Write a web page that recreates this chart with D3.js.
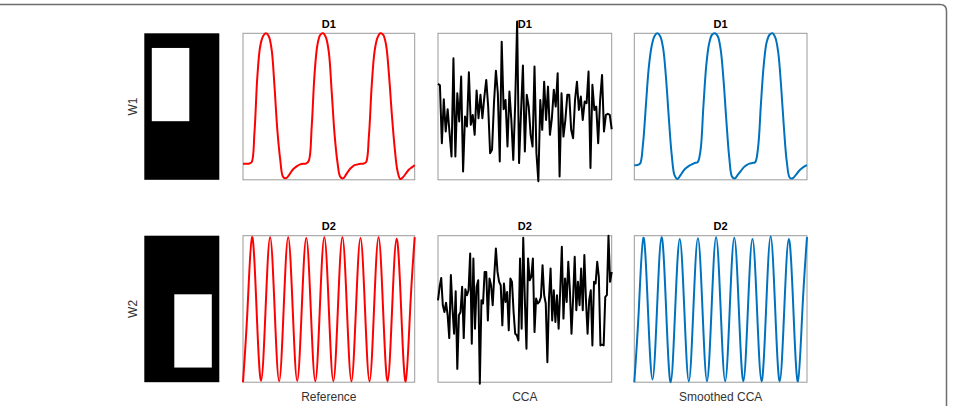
<!DOCTYPE html>
<html>
<head>
<meta charset="utf-8">
<script src="https://cdn.jsdelivr.net/npm/d3@7"></script>
<style>
  body { margin: 0; background: #fff; }
  text { font-family: "Liberation Sans", Arial, sans-serif; }
</style>
</head>
<body>
<script>

// --- data ---
var rowLabels = ["W1", "W2"];
var rowTitles = ["D1", "D2"];
var colLabels = ["Reference", "CCA", "Smoothed CCA"];

// white window inside the black map: [x0, x1, y0, y1] as fraction of the map
var maskW1 = [0.1, 0.6, 0.1, 0.6];
var maskW2 = [0.4, 0.9, 0.4, 0.9];

var refD1 = [0.11, 0.11, 0.11, 0.12, 0.32, 0.70, 0.91, 0.98, 1.00, 0.98,
             0.89, 0.64, 0.34, 0.14, 0.02, 0.01, 0.03, 0.06, 0.08, 0.095,
             0.105, 0.11, 0.11, 0.13, 0.36, 0.72, 0.92, 0.99, 1.00, 0.97,
             0.87, 0.60, 0.31, 0.12, 0.02, 0.01, 0.035, 0.065, 0.085, 0.10,
             0.105, 0.11, 0.11, 0.12, 0.30, 0.65, 0.88, 0.97, 1.00, 0.99,
             0.92, 0.72, 0.45, 0.22, 0.06, 0.005, 0.02, 0.045, 0.07, 0.085, 0.10];

var smoothD1 = [0.10, 0.10, 0.11, 0.24, 0.50, 0.76, 0.91, 0.98, 1.00, 0.98,
                0.90, 0.70, 0.42, 0.17, 0.03, 0.005, 0.03, 0.06, 0.08, 0.095,
                0.105, 0.115, 0.12, 0.20, 0.50, 0.78, 0.93, 0.99, 1.00, 0.98,
                0.89, 0.68, 0.40, 0.15, 0.02, 0.01, 0.035, 0.06, 0.085, 0.10,
                0.11, 0.115, 0.12, 0.22, 0.52, 0.79, 0.94, 0.99, 1.00, 0.97,
                0.87, 0.64, 0.35, 0.12, 0.015, 0.01, 0.03, 0.055, 0.075, 0.09, 0.10];

var ccaD1 = [0.655, 0.645, 0.25, 0.55, 0.33, 0.482, 0.318, 0.159, 0.83, 0.159,
             0.591, 0.398, 0.705, 0.057, 0.432, 0.364, 0.734, 0.375, 0.443, 0.307,
             0.609, 0.42, 0.58, 0.42, 0.564, 0.682, 0.5, 0.182, 0.205, 0.523,
             0.745, 0.591, 0.125, 0.943, 0.482, 0.545, 0.227, 0.602, 0.409, 0.136,
             0.523, 1.08, 0.114, 0.455, 0.78, 0.193, 0.58, 0.5, 0.307, 0.227,
             0.773, 0.182, -0.01, 0.545, 0.341, 0.67, 0.409, 0.636, 0.307, 0.42,
             0.614, 0.5, 0.727, 0.023, 0.591, 0.295, 0.409, 0.58, 0.58, 0.341,
             0.284, 0.545, 0.67, 0.477, 0.568, 0.409, 0.534, 0.523, 0.739, 0.08,
             0.648, 0.477, 0.5, 0.25, 0.545, 0.716, 0.33, 0.443, 0.45, 0.443, 0.345];

var refD2 = [0, 0.5, 0.99, 0.5, 0.01, 0.5, 0.99, 0.5, 0.007, 0.5,
             0.99, 0.5, 0.01, 0.5, 0.985, 0.5, 0.007, 0.5, 0.99, 0.5,
             0.007, 0.5, 0.99, 0.5, 0.007, 0.5, 0.985, 0.5, 0.007, 0.5,
             0.99, 0.5, 0.007, 0.5, 0.98, 0.5, 0.007, 0.5, 0.99];

var smoothD2 = [0, 0.5, 0.986, 0.5, 0.018, 0.5, 0.99, 0.5, 0, 0.5,
                0.977, 0.5, 0.007, 0.5, 0.982, 0.5, 0.007, 0.5, 0.99, 0.5,
                0.007, 0.5, 0.986, 0.5, 0.007, 0.5, 0.977, 0.5, 0.007, 0.5,
                0.995, 0.5, 0.007, 0.5, 0.977, 0.5, 0.007, 0.5, 0.99];

var ccaD2 = [0.559, 0.651, 0.712, 0.525, 0.479, 0.543, 0.457, 0.301, 0.731, 0.502,
             0.331, 0.621, 0.091, 0.457, 0.479, 0.651, 0.301, 0.635, 0.594, 0.628,
             0.879, 0.263, 0.845, 0.365, 0.651, 0.696, -0.01, 0.559, 0.537, 0.753,
             0.753, 0.422, 0.708, 0.662, 0.525, 0.731, 0.913, 0.753, 0.685, 0.662,
             0.388, 0.674, 0.548, 0.616, 0.354, 0.708, 0.685, 0.479, 0.331, 0.32,
             0.285, 0.845, 0.365, 0.986, 0.559, 0.228, 0.845, 0.696, 0.719, 0.845,
             0.342, 0.571, 0.537, 0.548, 0.582, 0.799, 0.594, 0.537, 0.137, 0.571,
             0.776, 0.422, 0.628, 0.411, 0.594, 0.365, 0.628, 0.925, 0.434, 0.708,
             0.548, 0.822, 0.628, 0.331, 0.571, 0.856, 0.491, 0.685, 0.525, 0.776,
             0.491, 0.868, 0.559, 0.331, 0.559, 0.628, 0.251, 0.685, 0.674, 0.822,
             0.719, 0.251, 0.256, 0.251, 0.582, 0.594, 1.0, 0.685, 0.753];

// --- layout ---
var W = 954, H = 406;
var rowTop = [33.3, 235.7];
var rowH = 146.5;
var mapX = [144.3, 219.3];
var colX = [[243, 414.7], [438, 611.7], [634.3, 807]];
var colors = ["#ff0000", "#000000", "#0072bd"];

var rows = [
  { mask: maskW1, series: [refD1, ccaD1, smoothD1], curves: [d3.curveCatmullRom, d3.curveLinear, d3.curveCatmullRom] },
  { mask: maskW2, series: [refD2, ccaD2, smoothD2], curves: [d3.curveNatural, d3.curveLinear, d3.curveNatural] }
];

var svg = d3.select("body").append("svg")
    .attr("width", W)
    .attr("height", H);

// outer frame (rounded corner at top right, runs off left and bottom)
svg.append("path")
    .attr("d", "M0,4.5 H940 Q946.5,4.5 946.5,11 V406")
    .attr("fill", "none")
    .attr("stroke", "#6e6e6e")
    .attr("stroke-width", 1.5);

rows.forEach(function(row, r) {
    var y0 = rowTop[r], y1 = rowTop[r] + rowH;

    // black map with white window
    var mx = d3.scaleLinear().domain([0, 1]).range(mapX);
    var my = d3.scaleLinear().domain([0, 1]).range([y0, y1]);
    svg.append("rect")
        .attr("x", mx(0)).attr("y", my(0))
        .attr("width", mx(1) - mx(0)).attr("height", my(1) - my(0))
        .attr("fill", "#000");
    svg.append("rect")
        .attr("x", mx(row.mask[0])).attr("y", my(row.mask[2]))
        .attr("width", mx(row.mask[1]) - mx(row.mask[0]))
        .attr("height", my(row.mask[3]) - my(row.mask[2]))
        .attr("fill", "#fff");

    // row label
    svg.append("text")
        .attr("transform", "translate(136.5," + ((y0 + y1) / 2) + ") rotate(-90)")
        .attr("text-anchor", "middle")
        .attr("font-size", 12)
        .attr("fill", "#333")
        .text(rowLabels[r]);

    row.series.forEach(function(data, c) {
        var xs = d3.scaleLinear().domain([0, data.length - 1]).range(colX[c]);
        var ys = d3.scaleLinear().domain([0, 1]).range([y1, y0]);

        svg.append("rect")
            .attr("x", colX[c][0]).attr("y", y0)
            .attr("width", colX[c][1] - colX[c][0]).attr("height", rowH)
            .attr("fill", "none")
            .attr("stroke", "#9a9a9a")
            .attr("stroke-width", 1);

        var line = d3.line()
            .x(function(d, i) { return xs(i); })
            .y(function(d) { return ys(d); })
            .curve(row.curves[c]);

        svg.append("path")
            .datum(data)
            .attr("d", line)
            .attr("fill", "none")
            .attr("stroke", colors[c])
            .attr("stroke-width", 2)
            .attr("stroke-linejoin", "round");

        // panel title
        svg.append("text")
            .attr("x", (colX[c][0] + colX[c][1]) / 2)
            .attr("y", y0 - 5.5)
            .attr("text-anchor", "middle")
            .attr("font-size", 11)
            .attr("font-weight", "bold")
            .attr("fill", "#000")
            .text(rowTitles[r]);

        // column label under the bottom row
        if (r === rows.length - 1) {
            svg.append("text")
                .attr("x", (colX[c][0] + colX[c][1]) / 2)
                .attr("y", y1 + 19)
                .attr("text-anchor", "middle")
                .attr("font-size", 12)
                .attr("fill", "#333")
                .text(colLabels[c]);
        }
    });
});

</script>
</body>
</html>
